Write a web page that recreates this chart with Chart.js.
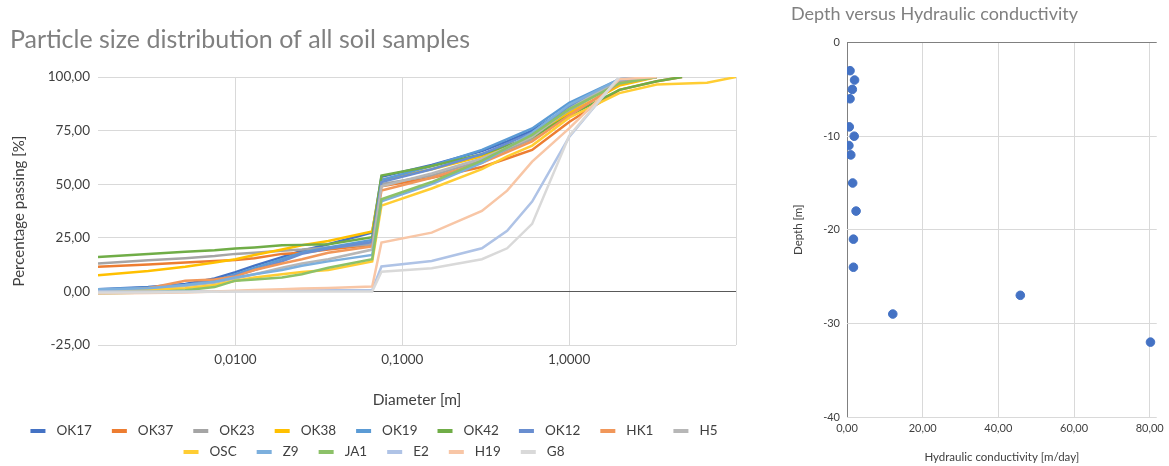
<!DOCTYPE html>
<html>
<head>
<meta charset="utf-8">
<script src="https://cdn.jsdelivr.net/npm/chart.js@4.4.1/dist/chart.umd.min.js"></script>
<style>
  html, body { margin: 0; padding: 0; background: #fff; }
  body { width: 1169px; height: 466px; position: relative; overflow: hidden; }
  #psd-chart { position: absolute; left: 0; top: 0; }
  #k-chart { position: absolute; left: 770px; top: 0; }
</style>
</head>
<body>
<canvas id="psd-chart" width="770" height="466"></canvas>
<canvas id="k-chart" width="399" height="466"></canvas>
<script>
// Sieve / hydrometer diameters shared by all samples
const diameters = [0.0015, 0.003, 0.005, 0.0075, 0.01, 0.013, 0.019, 0.025, 0.036, 0.066,
                   0.075, 0.15, 0.3, 0.425, 0.6, 1.0, 2.0, 3.35, 4.75, 6.7, 10];
const xTicks = [0.01, 0.1, 1, 10];

// Percentage passing per sample (null = not measured)
const ok17 = [1, 2, 3.5, 6, 9, 12, 16, 19, 22, 27.5, 53.5, 59, 65.5, 70, 75, 86, 98, 100, null, null, null];
const ok37 = [11.5, 12.5, 13.5, 14.2, 14.7, 15.5, 17.5, 18, 19.5, 21.7, 49, 53, 58, 62, 66, 79, 94, 98, 100, null, null];
const ok23 = [13, 14.5, 15.5, 16.5, 17.5, 18, 19, 19.5, 20.5, 22, 50, 54, 61, 66, 71, 84, 98, 100, null, null, null];
const ok38 = [7.5, 9.5, 11.5, 13.5, 15, 17, 19.5, 21.5, 23.5, 28, 52, 57, 63, 68, 72, 83, 96, 100, null, null, null];
const ok19 = [0.8, 1.8, 3, 5, 8, 11, 15, 18, 20.5, 24, 52, 58.5, 66, 71, 76, 88, 99, 100, null, null, null];
const ok42 = [16, 17.5, 18.5, 19.2, 20, 20.5, 21.5, 21.7, 22, 25.3, 54, 58.5, 64, 68, 72, 82, 94, 98, 100, null, null];
const ok12 = [0.5, 1.5, 3, 5, 7.5, 10, 14, 17.5, 20, 23, 51, 57, 64, 69, 74, 86, 99, 100, null, null, null];
const hk1 = [0, 1.5, 5, 5.5, 7, 10, 13, 15, 18, 21, 47, 53, 60, 65, 70, 82, 97, 100, null, null, null];
const h5 = [0.5, 1, 2.5, 4, 6, 8, 11, 13, 15, 19.5, 49, 55, 62, 67, 72, 85, 99, 100, null, null, null];
const osc = [-0.5, 0.5, 1.5, 3, 5, 6.5, 8, 9, 10, 14, 40, 48, 57, 63, 68, 81, 92.5, 96.5, null, 97.3, 100];
const z9 = [1, 1.5, 3, 4.5, 6.5, 8, 10, 12, 14, 17, 42, 50, 60, 67, 74, 87, 99, 100, null, null, null];
const ja1 = [-1, -0.5, 0.5, 2, 5, 5.5, 6.5, 8, 11, 15, 43, 51, 61, 67, 73, 85, 97, 100, null, null, null];
const e2 = [0, 0, 0, 0, 0.1, 0.2, 0.3, 0.4, 0.5, 0.6, 11.6, 14.2, 20.1, 28.3, 41.9, 72, 100, null, null, null, null];
const h19 = [-1, -0.8, -0.5, 0, 0.3, 0.6, 1, 1.3, 1.6, 2.3, 22.8, 27.4, 37.5, 47, 60.5, 76, 99, 100, null, null, null];
const g8 = [-0.5, -0.5, -0.3, -0.2, 0, 0, 0, 0, 0, 0, 9.2, 10.8, 15, 20.1, 31.5, 72.5, 100, null, null, null, null];

const sampleNames = ['OK17', 'OK37', 'OK23', 'OK38', 'OK19', 'OK42', 'OK12', 'HK1', 'H5',
                     'OSC', 'Z9', 'JA1', 'E2', 'H19', 'G8'];
const sampleValues = [ok17, ok37, ok23, ok38, ok19, ok42, ok12, hk1, h5, osc, z9, ja1, e2, h19, g8];
const sampleColors = ['#4472C4', '#ED7D31', '#A5A5A5', '#FFC000', '#5B9BD5', '#70AD47',
                      '#698ED0', '#F1975A', '#B7B7B7', '#FFCD33', '#7CAFDD', '#8CC168',
                      '#AFC3E6', '#F8C6A6', '#D9D9D9'];

// Hydraulic conductivity [m/day] against depth [m]
const conductivity = [0.8, 2.0, 1.4, 0.8, 0.6, 1.9, 0.5, 1.0, 1.5, 2.4, 1.7, 1.7, 12.1, 45.8, 80.2];
const depth = [-3, -4, -5, -6, -9, -10, -11, -12, -15, -18, -21, -24, -29, -27, -32];
const kTicks = [0, 20, 40, 60, 80];

Chart.defaults.font.family = 'Lato, "Open Sans", sans-serif';
Chart.defaults.color = '#404040';

const comma = (v, d) => v.toFixed(d).replace('.', ',');

// Two-row legend drawn under the grading curves
const legendRows = [[0, 1, 2, 3, 4, 5, 6, 7, 8], [9, 10, 11, 12, 13, 14]];
const psdLegend = {
    id: 'psdLegend',
    afterDraw(chart) {
        const ctx = chart.ctx;
        ctx.save();
        ctx.font = '13.5px Lato, "Open Sans", sans-serif';
        ctx.textBaseline = 'middle';
        legendRows.forEach((row, r) => {
            const y = 431 + r * 21;
            const widths = row.map(i => 15 + 11 + ctx.measureText(sampleNames[i]).width);
            const total = widths.reduce((a, b) => a + b, 0) + 20 * (row.length - 1);
            let x = 374 - total / 2;
            row.forEach((i, k) => {
                ctx.fillStyle = sampleColors[i];
                ctx.fillRect(x, y - 2, 15, 4);
                ctx.fillStyle = '#404040';
                ctx.fillText(sampleNames[i], x + 26, y);
                x += widths[k] + 20;
            });
        });
        ctx.restore();
    }
};

new Chart(document.getElementById('psd-chart'), {
    type: 'line',
    data: {
        datasets: sampleNames.map((name, i) => ({
            label: name,
            data: diameters.map((d, j) => ({ x: d, y: sampleValues[i][j] })).filter(p => p.y !== null),
            borderColor: sampleColors[i],
            backgroundColor: sampleColors[i],
            borderWidth: 2.5,
            pointRadius: 0,
            tension: 0,
            order: sampleNames.length - i
        }))
    },
    options: {
        responsive: false,
        animation: false,
        layout: { padding: { left: 10, right: 34, top: 0, bottom: 57 } },
        plugins: {
            legend: { display: false },
            tooltip: { enabled: false },
            title: {
                display: true,
                text: 'Particle size distribution of all soil samples',
                align: 'start',
                color: '#808080',
                font: { size: 25, weight: 'normal' },
                padding: { top: 25, bottom: 22 }
            }
        },
        scales: {
            x: {
                type: 'logarithmic',
                min: 0.0015,
                max: 10,
                afterBuildTicks: scale => { scale.ticks = xTicks.map(v => ({ value: v })); },
                afterFit: scale => { scale.height = 64; },
                ticks: {
                    autoSkip: false,
                    maxRotation: 0,
                    padding: 7,
                    font: { size: 13.5 },
                    callback: v => (v >= 10 ? '' : comma(v, 4))
                },
                grid: { color: '#D9D9D9', drawTicks: false },
                border: { display: false },
                title: { display: true, text: 'Diameter [m]', font: { size: 15.5 }, padding: { top: 0, bottom: 0 } }
            },
            y: {
                min: -25,
                max: 100,
                afterFit: scale => { scale.width = 88; },
                ticks: { stepSize: 25, padding: 8, font: { size: 13.5 }, callback: v => comma(v, 2) },
                grid: {
                    drawTicks: false,
                    color: c => (c.tick && c.tick.value === 0 ? '#595959' : '#D9D9D9')
                },
                border: { display: false },
                title: { display: true, text: 'Percentage passing [%]', font: { size: 15 }, padding: { top: 0, bottom: 0 } }
            }
        }
    },
    plugins: [psdLegend]
});

new Chart(document.getElementById('k-chart'), {
    type: 'scatter',
    data: {
        datasets: [{
            label: 'Hydraulic conductivity',
            data: conductivity.map((k, i) => ({ x: k, y: depth[i] })),
            backgroundColor: '#4472C4',
            borderColor: '#4472C4',
            pointRadius: 4.3
        }]
    },
    options: {
        responsive: false,
        animation: false,
        layout: { padding: { left: 21, right: 12, top: 0, bottom: 2 } },
        plugins: {
            legend: { display: false },
            tooltip: { enabled: false },
            title: {
                display: true,
                text: 'Depth versus Hydraulic conductivity',
                align: 'start',
                color: '#808080',
                font: { size: 18, weight: 'normal' },
                padding: { top: 3, bottom: 18 }
            }
        },
        scales: {
            x: {
                type: 'linear',
                min: 0,
                max: 81.85,
                afterBuildTicks: scale => { scale.ticks = kTicks.map(v => ({ value: v })); },
                afterFit: scale => { scale.height = 47; },
                ticks: { autoSkip: false, maxRotation: 0, padding: 5, font: { size: 11 }, callback: v => comma(v, 2) },
                grid: {
                    drawTicks: false,
                    color: c => (c.tick && c.tick.value === 0 ? '#808080' : '#D9D9D9')
                },
                border: { display: false },
                title: { display: true, text: 'Hydraulic conductivity [m/day]', font: { size: 11.5 }, padding: { top: 0, bottom: 0 } }
            },
            y: {
                min: -40,
                max: 0,
                afterFit: scale => { scale.width = 56; },
                ticks: { stepSize: 10, padding: 7, font: { size: 11 }, callback: v => String(v) },
                grid: {
                    drawTicks: false,
                    color: c => (c.tick && c.tick.value === 0 ? '#808080' : '#D9D9D9')
                },
                border: { display: false },
                title: { display: true, text: 'Depth [m]', font: { size: 11.5 }, padding: { top: 0, bottom: 0 } }
            }
        }
    }
});
</script>
</body>
</html>
